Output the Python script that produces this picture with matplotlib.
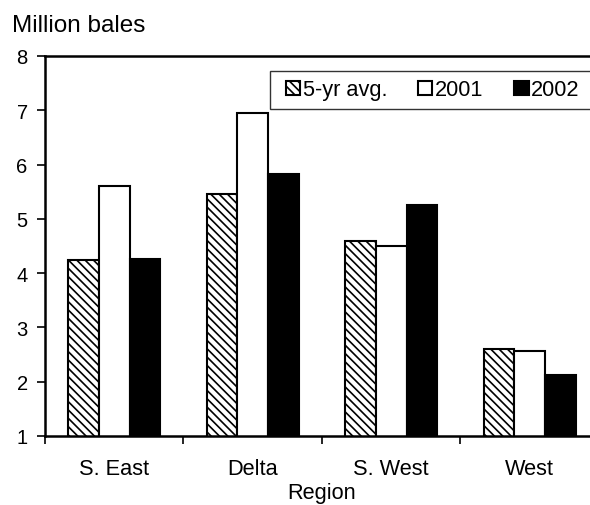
import numpy as np
import matplotlib
matplotlib.use("Agg")
import matplotlib.pyplot as plt
from matplotlib.patches import Rectangle

plt.rcParams['font.family'] = ['Liberation Sans', 'DejaVu Sans']
plt.rcParams['hatch.linewidth'] = 1.2

regions = ["S. East", "Delta", "S. West", "West"]
series_names = ["5-yr avg.", "2001", "2002"]
avg5 = [4.24, 5.45, 4.59, 2.61]
y2001 = [5.60, 6.95, 4.50, 2.57]
y2002 = [4.26, 5.82, 5.25, 2.13]
yticks = [1, 2, 3, 4, 5, 6, 7, 8]

W, H = 590, 506
fig = plt.figure(figsize=(W / 100, H / 100), dpi=100)
# plot area runs a little past the right edge of the canvas
ax = fig.add_axes([45 / W, 1 - 437 / H, 554 / W, 380 / H])

x = np.arange(len(regions))
bw = 1 / 4.5
ax.bar(x - bw, avg5, bw, bottom=0, color='white', edgecolor='black',
       linewidth=1.5, hatch='\\\\\\\\', label=series_names[0])
ax.bar(x, y2001, bw, bottom=0, color='white', edgecolor='black',
       linewidth=1.5, label=series_names[1])
ax.bar(x + bw, y2002, bw, bottom=0, color='black', edgecolor='black',
       linewidth=1.5, label=series_names[2])

ax.set_xlim(-0.5, len(regions) - 0.5)
ax.set_ylim(1, 8)
ax.set_yticks(yticks)
ax.tick_params(axis='y', direction='out', length=5.5, width=1.2, pad=7,
               labelsize=14.5)

ax.set_xticks(x)
ax.set_xticklabels(regions)
ax.set_xticks(np.arange(len(regions) + 1) - 0.5, minor=True)
ax.tick_params(axis='x', which='major', length=0, pad=16, labelsize=15.7)
ax.tick_params(axis='x', which='minor', direction='out', length=6, width=1.2)
ax.set_xlabel("Region", fontsize=15.7, labelpad=2)

for side in ['left', 'bottom', 'top']:
    ax.spines[side].set_linewidth(1.8)
ax.spines['right'].set_visible(False)

fig.text(12 / W, 1 - 32 / H, "Million bales", fontsize=17.5, va='baseline')

# legend frame drawn separately so the box can run off the edge
fig.patches.append(Rectangle((270 / W, 1 - 110 / H), 340 / W, 38 / H,
                             transform=fig.transFigure, facecolor='white',
                             edgecolor='#333333', linewidth=1.0, zorder=5))
leg = fig.legend(loc='center left', bbox_to_anchor=(286 / W, 1 - 91 / H),
                 ncol=3, frameon=False, fontsize=15.7, handlelength=0.65,
                 handleheight=0.6, handletextpad=0.12, columnspacing=1.42,
                 borderpad=0, borderaxespad=0)
leg.set_zorder(6)

fig.savefig("out.png", dpi=100)
